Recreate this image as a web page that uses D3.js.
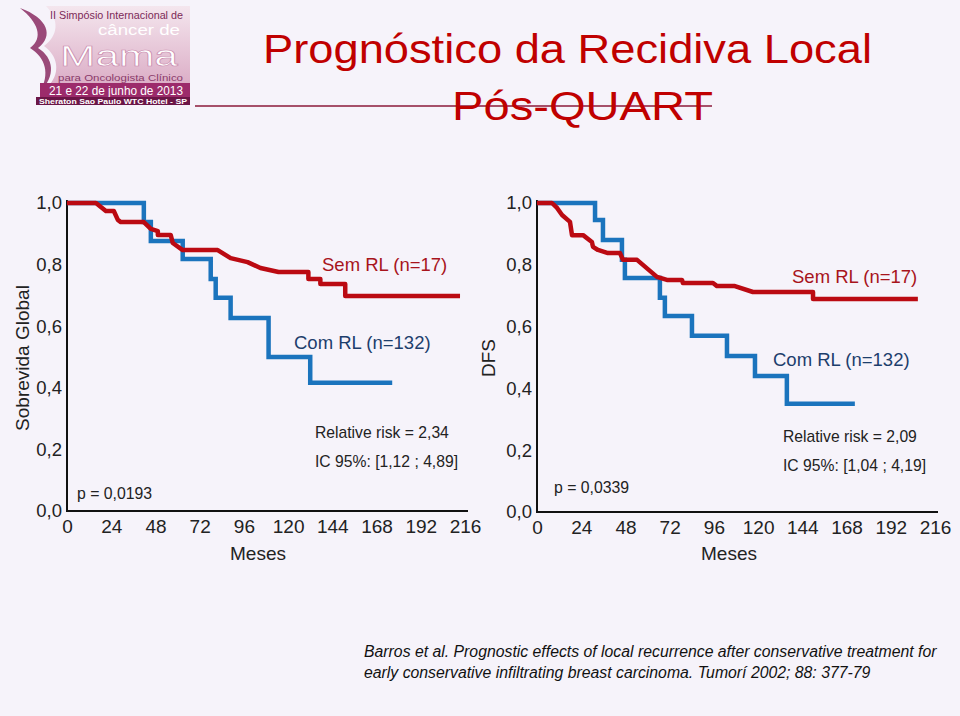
<!DOCTYPE html>
<html>
<head>
<meta charset="utf-8">
<script src="https://cdn.jsdelivr.net/npm/d3@7"></script>
<style>
  html, body { margin: 0; padding: 0; background: #f6f3fa; }
  svg { display: block; font-family: "Liberation Sans", Arial, sans-serif; }
</style>
</head>
<body>
<svg id="chart" width="960" height="716"></svg>
<script>
// ---------- DATA ----------
const monthTicks = [0, 24, 48, 72, 96, 120, 144, 168, 192, 216];
const survivalTicks = [0, 0.2, 0.4, 0.6, 0.8, 1.0];
const survivalTickLabels = ["0,0", "0,2", "0,4", "0,6", "0,8", "1,0"];

// Left panel: Sobrevida Global
const osComTimes = [0, 41.7, 45.5, 62.8, 78, 80.7, 88.8, 109.4, 132, 176.5];
const osComSurv  = [1.0, 0.938, 0.877, 0.818, 0.753, 0.692, 0.627, 0.50, 0.416, 0.416];
const osSemTimes = [0, 15.7, 21.1, 25.4, 27.6, 29.2, 41.7, 45.5, 49.3, 49.3, 56.3, 57.4, 62.8, 81.8, 88.8, 98.0, 105, 114.8, 131, 131, 137.5, 137.5, 151, 151, 213.3];
const osSemSurv  = [1.0, 1.0, 0.974, 0.974, 0.945, 0.938, 0.938, 0.916, 0.909, 0.896, 0.896, 0.870, 0.847, 0.847, 0.821, 0.808, 0.789, 0.776, 0.776, 0.753, 0.753, 0.737, 0.737, 0.698, 0.698];

// Right panel: DFS
const dfsComTimes = [0, 31.5, 35.8, 46.1, 47.7, 66.7, 69.4, 84.1, 103.1, 118.3, 135.6, 172.5];
const dfsComSurv  = [1.0, 0.945, 0.880, 0.816, 0.757, 0.693, 0.634, 0.570, 0.505, 0.440, 0.350, 0.350];
const dfsSemTimes = [0, 8.1, 10.9, 13.6, 17.9, 19.0, 25.0, 29.8, 30.4, 33.1, 38.5, 45.0, 46.7, 54.3, 65.1, 70.5, 78.7, 79.2, 95.5, 97.7, 107.4, 117.2, 149.8, 149.8, 206.7];
const dfsSemSurv  = [1.0, 1.0, 0.984, 0.961, 0.939, 0.896, 0.896, 0.874, 0.858, 0.848, 0.838, 0.838, 0.816, 0.816, 0.761, 0.751, 0.751, 0.741, 0.741, 0.731, 0.731, 0.712, 0.712, 0.689, 0.689];

const panels = [
  { xr: [67, 465], yr: [511, 203], axisEnd: 468, labelX: 65,
    com: [osComTimes, osComSurv], sem: [osSemTimes, osSemSurv],
    ylabel: "Sobrevida Global", ylabelX: 22,
    semLabel: [322, 265], comLabel: [294, 343],
    rr: "Relative risk = 2,34", ic: "IC 95%: [1,12 ; 4,89]", rrPos: [315, 433, 462],
    p: "p = 0,0193", pPos: [77, 493], mesesX: 258 },
  { xr: [537, 935], yr: [512, 203], axisEnd: 938, labelX: 535,
    com: [dfsComTimes, dfsComSurv], sem: [dfsSemTimes, dfsSemSurv],
    ylabel: "DFS", ylabelX: 488,
    semLabel: [792, 277], comLabel: [773, 360],
    rr: "Relative risk = 2,09", ic: "IC 95%: [1,04 ; 4,19]", rrPos: [783, 437, 466],
    p: "p = 0,0339", pPos: [554, 487], mesesX: 729 }
];

const BLUE = "#1b74bd", RED = "#bb0a12";
const FONT = "Liberation Sans, Arial, sans-serif";

const svg = d3.select("#chart");
svg.append("rect").attr("width", 960).attr("height", 716).attr("fill", "#f6f3fa");

// ---------- LOGO ----------
const logo = svg.append("g");
const lg = svg.append("defs").append("linearGradient").attr("id", "lgpink")
  .attr("x1", 0).attr("x2", 0).attr("y1", 0).attr("y2", 1);
lg.append("stop").attr("offset", "0%").attr("stop-color", "#f4e6ee");
lg.append("stop").attr("offset", "100%").attr("stop-color", "#dcaec7");
logo.append("path")
  .attr("d", "M46,6 L190,6 L190,84 L50,84 C60,72 58,56 44,46 C58,36 60,20 46,6 Z")
  .attr("fill", "url(#lgpink)");
logo.append("path")
  .attr("d", "M20,8 C38,22 44,38 30,48 C46,58 50,74 40,92 C56,76 54,58 38,48 C54,36 48,18 20,8 Z")
  .attr("fill", "#8a2c62").attr("opacity", 0.85);
function fitText(sel, x, y, size, len, txt) {
  return sel.append("text").attr("x", x).attr("y", y).attr("font-size", size)
    .attr("textLength", len).attr("lengthAdjust", "spacingAndGlyphs").text(txt);
}
fitText(logo, 50, 19, 10.5, 133, "II Simpósio Internacional de").attr("fill", "#7c2a58");
fitText(logo, 98, 35, 14, 82, "câncer de").attr("fill", "#ffffff");
fitText(logo, 60, 66, 29, 118, "Mama").attr("fill", "#ffffff")
  .attr("stroke", "#c98aad").attr("stroke-width", 0.6);
fitText(logo, 58, 81, 9.5, 125, "para Oncologista Clínico").attr("fill", "#8a3a6a");
logo.append("rect").attr("x", 40).attr("y", 83).attr("width", 150).attr("height", 14).attr("fill", "#9c2b6b");
fitText(logo, 49, 95, 13, 134, "21 e 22 de junho de 2013").attr("fill", "#ffffff");
logo.append("rect").attr("x", 36).attr("y", 97).attr("width", 154).attr("height", 8).attr("fill", "#6b1647");
fitText(logo, 39, 104, 8, 148, "Sheraton Sao Paulo WTC Hotel - SP")
  .attr("font-weight", "bold").attr("fill", "#ffffff");

// ---------- TITLE ----------
svg.append("line").attr("x1", 195).attr("x2", 712).attr("y1", 106).attr("y2", 106)
  .attr("stroke", "#8b1a3a").attr("stroke-width", 1.5);
fitText(svg, 263, 63, 40, 609, "Prognóstico da Recidiva Local").attr("fill", "#c00000");
fitText(svg, 452, 120, 40, 261, "Pós-QUART").attr("fill", "#c00000");

// ---------- PANELS ----------
panels.forEach(p => {
  const x = d3.scaleLinear().domain([0, 216]).range(p.xr);
  const y = d3.scaleLinear().domain([0, 1]).range(p.yr);
  const g = svg.append("g");

  // axes (no tick marks)
  g.append("g").attr("transform", `translate(0,${p.yr[0] + 5})`)
    .call(d3.axisBottom(x).tickValues(monthTicks).tickSize(0).tickFormat(d3.format("d")))
    .call(a => a.select(".domain").remove())
    .call(a => a.selectAll("text").attr("font-size", 19).attr("fill", "#222")
      .attr("font-family", FONT));
  g.append("g").attr("transform", `translate(${p.labelX},0)`)
    .call(d3.axisLeft(y).tickValues(survivalTicks).tickSize(0)
      .tickFormat((d, i) => survivalTickLabels[i]))
    .call(a => a.select(".domain").remove())
    .call(a => a.selectAll("text").attr("font-size", 18.5).attr("fill", "#222")
      .attr("font-family", FONT));

  g.append("path")
    .attr("d", `M${p.xr[0]},${p.yr[1] - 3}V${p.yr[0]}H${p.axisEnd}`)
    .attr("fill", "none").attr("stroke", "#111").attr("stroke-width", 2);

  // curves
  const stepLine = d3.line().curve(d3.curveStepAfter)
    .x(d => x(d[0])).y(d => y(d[1]));
  const polyLine = d3.line().x(d => x(d[0])).y(d => y(d[1]));
  const comPts = d3.zip(p.com[0], p.com[1]);
  const semPts = d3.zip(p.sem[0], p.sem[1]);
  g.append("path").attr("d", stepLine(comPts)).attr("fill", "none")
    .attr("stroke", BLUE).attr("stroke-width", 4.5).attr("stroke-linejoin", "miter");
  g.append("path").attr("d", polyLine(semPts)).attr("fill", "none")
    .attr("stroke", RED).attr("stroke-width", 4.5).attr("stroke-linejoin", "round");

  // labels
  g.append("text").attr("x", p.semLabel[0]).attr("y", p.semLabel[1]).attr("dy", "0.35em")
    .attr("font-size", 18.5).attr("fill", "#a8141c").text("Sem RL (n=17)");
  g.append("text").attr("x", p.comLabel[0]).attr("y", p.comLabel[1]).attr("dy", "0.35em")
    .attr("font-size", 18.5).attr("fill", "#1d3e6c").text("Com RL (n=132)");
  g.append("text").attr("x", p.rrPos[0]).attr("y", p.rrPos[1]).attr("dy", "0.35em")
    .attr("font-size", 15.7).attr("fill", "#222").text(p.rr);
  g.append("text").attr("x", p.rrPos[0]).attr("y", p.rrPos[2]).attr("dy", "0.35em")
    .attr("font-size", 15.7).attr("fill", "#222").text(p.ic);
  g.append("text").attr("x", p.pPos[0]).attr("y", p.pPos[1]).attr("dy", "0.35em")
    .attr("font-size", 15.8).attr("fill", "#222").text(p.p);
  g.append("text").attr("x", p.mesesX).attr("y", 553).attr("dy", "0.35em").attr("text-anchor", "middle")
    .attr("font-size", 19).attr("fill", "#222").text("Meses");
  g.append("text").attr("transform", `translate(${p.ylabelX},358) rotate(-90)`)
    .attr("dy", "0.35em").attr("text-anchor", "middle")
    .attr("font-size", 19).attr("fill", "#222").text(p.ylabel);
});

// ---------- FOOTER ----------
svg.append("text").attr("x", 364).attr("y", 651).attr("dy", "0.35em")
  .attr("font-size", 15.8).attr("font-style", "italic").attr("fill", "#111")
  .text("Barros et al. Prognostic effects of local recurrence after conservative treatment for");
svg.append("text").attr("x", 364).attr("y", 672).attr("dy", "0.35em")
  .attr("font-size", 15.8).attr("font-style", "italic").attr("fill", "#111")
  .text("early conservative infiltrating breast carcinoma. Tumorí 2002; 88: 377-79");
</script>
</body>
</html>
